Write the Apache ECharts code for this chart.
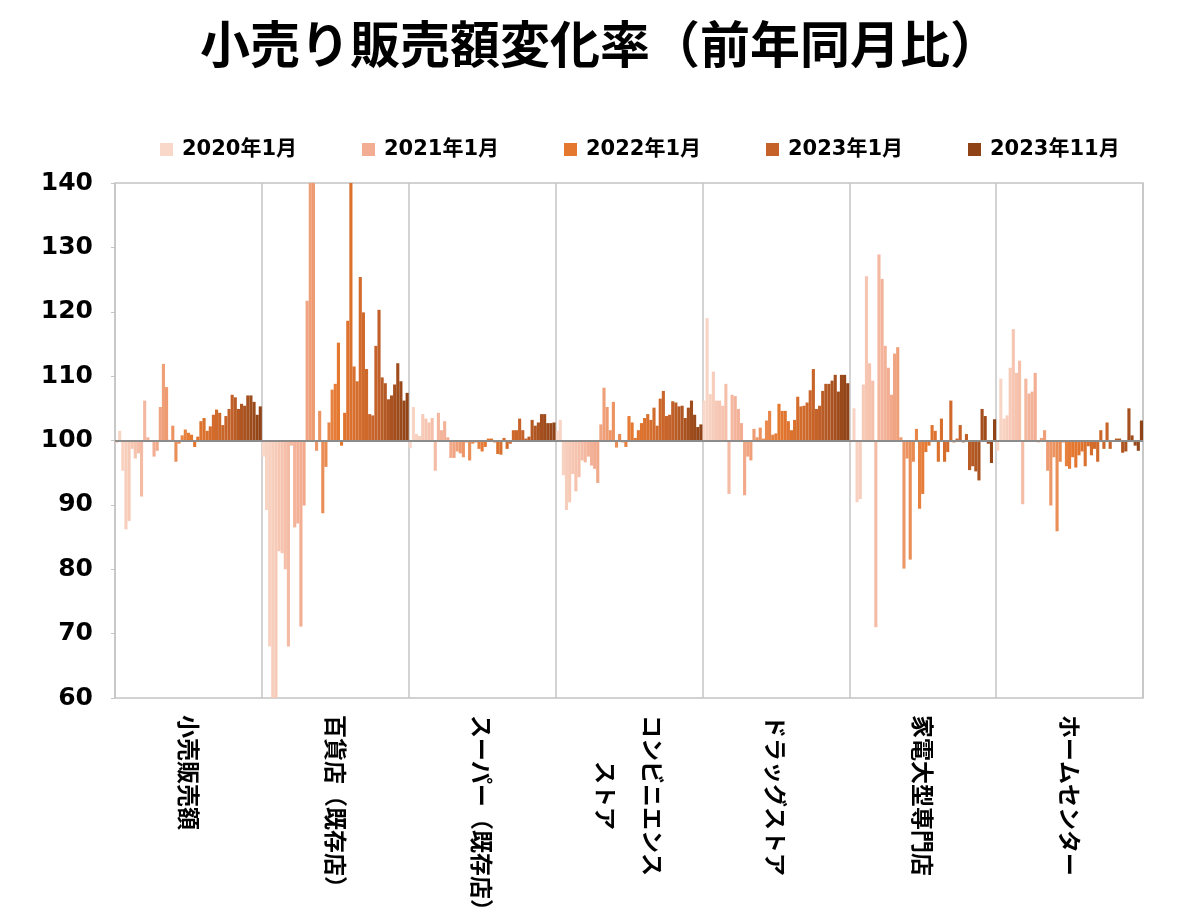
<!DOCTYPE html>
<html>
<head>
<meta charset="utf-8">
<script src="https://cdn.jsdelivr.net/npm/echarts@6/dist/echarts.min.js"></script>
<style>
html,body{margin:0;padding:0;background:#fff;overflow:hidden;}
#chart{width:1200px;height:911px;}
</style>
</head>
<body>
<div id="chart"></div>
<script>
// ---- data ----
const categories = ['小売販売額', '百貨店（既存店）', 'スーパー（既存店）', 'コンビニエンス\nストア', 'ドラッグストア', '家電大型専門店', 'ホームセンター'];
const months = [];
for (let y = 2020; y <= 2023; y++) for (let m = 1; m <= 12; m++) { if (y === 2023 && m > 11) break; months.push(y + '年' + m + '月'); }
const legendNames = ['2020年1月', '2021年1月', '2022年1月', '2023年1月', '2023年11月'];
const yTicks = [60, 70, 80, 90, 100, 110, 120, 130, 140];

const retail = [99.6,101.5,95.3,86.2,87.5,98.7,97.2,98.0,91.3,106.2, 100.5,99.8,97.5,98.4,105.2,111.9,108.3,100.1,102.3,96.7, 99.5,100.8,101.7,101.2,100.9,99.0,100.6,103.0,103.5,101.5, 102.2,104.0,104.8,104.3,102.4,103.8,104.9,107.1,106.7,104.9, 105.7,105.4,107.0,107.0,106.0,104.0,105.3];
const deptStore = [97.5,89.2,68.0,28.0,35.0,82.8,82.5,80.0,68.0,99.2, 86.5,87.1,71.1,89.9,121.7,258.0,165.0,98.4,104.6,88.7, 95.9,102.8,107.9,108.8,115.2,99.2,104.3,118.6,158.7,111.5, 109.2,125.4,119.9,111.1,104.1,103.9,114.7,120.3,109.8,108.9, 106.4,107.0,108.7,112.0,109.2,106.2,107.4];
const supermarket = [98.8,105.2,101.0,100.7,104.1,103.4,102.8,103.5,95.3,104.3, 101.6,103.0,100.5,97.3,97.3,98.3,98.0,97.4,99.7,96.9, 99.5,99.7,98.7,98.3,99.0,100.3,100.3,99.7,97.9,97.8, 100.4,98.7,99.5,101.6,101.6,103.4,101.6,100.3,100.6,103.2, 102.3,102.8,104.1,104.1,102.7,102.7,102.8];
const convenience = [101.5,103.2,94.6,89.2,90.4,94.8,92.1,94.3,96.9,96.6, 97.5,96.1,95.6,93.4,102.5,108.2,105.2,101.6,106.0,98.9, 101.0,99.7,99.0,103.8,102.8,100.4,101.6,102.7,103.5,104.1, 103.2,105.1,102.3,106.5,107.7,103.8,104.0,106.1,105.9,105.3, 105.4,103.5,105.1,106.2,104.0,102.1,102.5];
const drugstore = [106.2,119.0,107.2,110.7,106.2,106.2,105.4,108.8,91.7,107.1, 106.9,104.9,102.7,91.5,97.5,96.9,101.8,100.5,102.0,100.3, 103.1,104.6,100.9,101.1,105.7,104.6,104.6,103.0,101.6,103.2, 106.8,105.3,105.4,105.9,107.8,111.1,104.9,105.4,107.7,108.8, 108.8,109.3,110.2,107.6,110.2,110.2,108.9];
const electronics = [99.7,105.0,90.4,90.9,108.7,125.5,112.0,109.3,71.0,128.9, 125.1,114.7,111.3,107.1,113.5,114.5,100.5,80.1,97.2,81.5, 96.7,101.8,89.4,91.7,98.2,99.2,102.4,101.5,96.7,103.4, 96.7,98.2,106.2,99.7,100.3,102.4,99.7,101.0,95.4,96.0, 95.2,93.8,104.9,103.8,99.5,96.5,103.3];
const homeCenter = [98.4,109.6,103.4,103.9,111.3,117.3,110.5,112.4,90.1,109.6, 107.3,107.6,110.5,99.7,100.4,101.6,95.3,89.9,97.4,85.9, 96.7,99.7,96.0,95.6,97.4,95.8,97.7,98.3,96.0,99.1, 97.7,98.7,96.7,101.6,98.7,102.8,98.7,99.8,100.3,100.3, 98.1,98.3,105.0,100.8,99.2,98.4,103.1];

const seriesByCategory = [retail, deptStore, supermarket, convenience, drugstore, electronics, homeCenter];

// colour anchors (month index -> colour), interpolated in between
const colorAnchorIdx = [0, 12, 24, 36, 46];
const colorAnchors = ['#f9d8ca', '#f2ad92', '#e5782f', '#c5622a', '#8f4317'];

function hex2rgb(h){ return [1,3,5].map(i => parseInt(h.substr(i,2),16)); }
function colorAt(i){
  for (let k = 0; k < colorAnchorIdx.length - 1; k++) {
    const a = colorAnchorIdx[k], b = colorAnchorIdx[k+1];
    if (i >= a && i <= b) {
      const t = (i - a) / (b - a);
      const c1 = hex2rgb(colorAnchors[k]), c2 = hex2rgb(colorAnchors[k+1]);
      const c = c1.map((v, j) => Math.round(v + (c2[j] - v) * t));
      return 'rgb(' + c.join(',') + ')';
    }
  }
  return colorAnchors[colorAnchors.length-1];
}

const FONT_NUM = '"DejaVu Sans", "Noto Sans CJK JP", sans-serif';
const FONT_JP = '"Noto Sans CJK JP", sans-serif';

const series = months.map((name, mi) => {
  const s = {
    name: name,
    type: 'bar',
    barGap: '0%',
    barCategoryGap: '0%',
    clip: true,
    itemStyle: { color: colorAt(mi) },
    data: seriesByCategory.map(arr => +(arr[mi] - 100).toFixed(2))
  };
  if (mi === months.length - 1) {
    s.markLine = {
      silent: true, symbol: 'none', animation: false,
      label: { show: false },
      lineStyle: { color: '#8c8c8c', width: 2, type: 'solid' },
      data: [{ yAxis: 0 }]
    };
  }
  return s;
});

const legendLefts = [155, 357, 559, 761, 963];

const chart = echarts.init(document.getElementById('chart'));
chart.setOption({
  animation: false,
  backgroundColor: '#ffffff',
  title: {
    text: '小売り販売額変化率（前年同月比）',
    left: 'center',
    top: 14,
    textStyle: { fontFamily: FONT_JP, fontSize: 50, fontWeight: 'bold', color: '#000' }
  },
  legend: legendNames.map((n, k) => ({
    data: [n],
    left: legendLefts[k],
    top: 134,
    icon: 'rect',
    itemWidth: 13,
    itemHeight: 13,
    selectedMode: false,
    textStyle: { fontFamily: FONT_NUM, fontSize: 21, fontWeight: 'bold', color: '#000', padding: [0, 0, 0, 4] }
  })),
  grid: {
    left: 115, right: 57, top: 183, bottom: 213,
    containLabel: false,
    outerBoundsMode: 'none',
    show: true, borderColor: '#c4c4c4', borderWidth: 1.5
  },
  xAxis: {
    type: 'category',
    data: categories,
    axisLine: { show: false },
    axisTick: { show: false },
    splitLine: { show: true, interval: 0, lineStyle: { color: '#c4c4c4', width: 1.5 } },
    axisLabel: {
      interval: 0,
      rotate: -90,
      margin: 17,
      fontFamily: FONT_JP,
      fontSize: 23,
      lineHeight: 47,
      fontWeight: 'bold',
      color: '#000',
      formatter: function (v) {
        const lines = v.split('\n');
        const maxLen = Math.max.apply(null, lines.map(l => l.length));
        return lines.map(l => '　'.repeat(Math.floor((maxLen - l.length) / 2)) + l).join('\n');
      }
    }
  },
  yAxis: {
    type: 'value',
    min: yTicks[0] - 100,
    max: yTicks[yTicks.length - 1] - 100,
    interval: 10,
    axisLine: { show: false },
    axisTick: { show: true, length: 4, lineStyle: { color: '#c4c4c4' } },
    splitLine: { show: false },
    axisLabel: {
      margin: 22,
      fontFamily: FONT_NUM,
      fontSize: 25,
      fontWeight: 'bold',
      color: '#000',
      formatter: function (v) { return String(v + 100); }
    }
  },
  series: series
});
</script>
</body>
</html>
